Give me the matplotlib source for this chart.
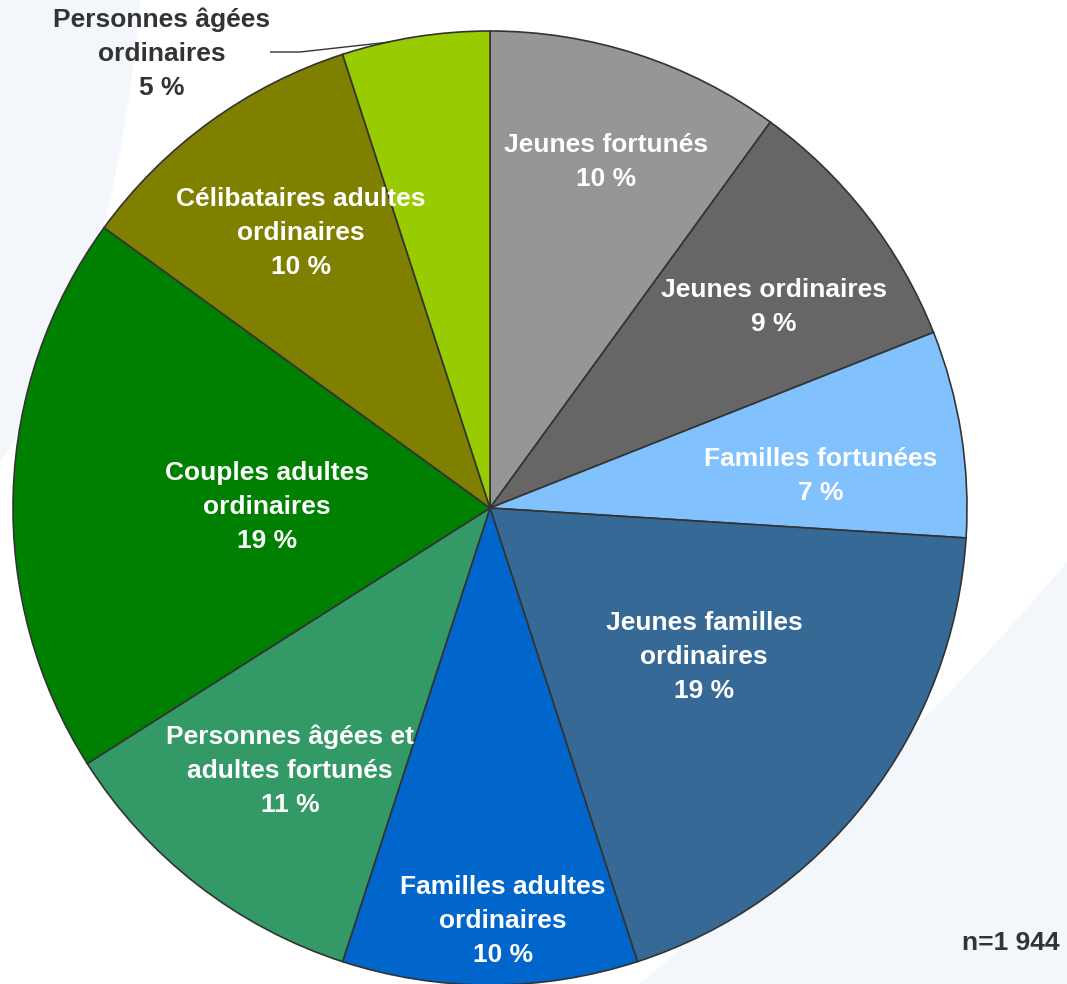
import matplotlib
matplotlib.use("Agg")
import matplotlib.pyplot as plt
from matplotlib.patches import PathPatch
from matplotlib.path import Path

# Segments, in clockwise order starting at 12 o'clock
segments = [
    "Jeunes fortunés",
    "Jeunes ordinaires",
    "Familles fortunées",
    "Jeunes familles\nordinaires",
    "Familles adultes\nordinaires",
    "Personnes âgées et\nadultes fortunés",
    "Couples adultes\nordinaires",
    "Célibataires adultes\nordinaires",
    "Personnes âgées\nordinaires",
]
shares = [10, 9, 7, 19, 10, 11, 19, 10, 5]
sample_note = "n=1 944"

colors = ["#969696", "#666666", "#80c1fe", "#376996", "#0066cc",
          "#339966", "#008000", "#808000", "#99cc00"]

# Label centres in pixel space (x right, y down)
label_pos = [(606, 162), (774, 307), (821, 476), (704, 657), (503, 921),
             (290, 771), (267, 507), (301, 233), (162, 54)]
label_color = ["white"] * 8 + ["#333333"]

W, H = 1067, 984
CX, CY, R = 490, 508, 477

fig = plt.figure(figsize=(W / 100, H / 100), dpi=100, facecolor="#f3f6fb")
ax = fig.add_axes([0, 0, 1, 1])
ax.set_facecolor("none")


def fy(y):
    return H - y


# Pale backdrop with a white diagonal swoosh
verts = [(140, 0), (W, 0), (W, 562), (900, 760), (640, H), (0, H), (0, 462),
         (115, 300), (140, 0), (140, 0)]
codes = [Path.MOVETO, Path.LINETO, Path.LINETO, Path.CURVE3, Path.CURVE3,
         Path.LINETO, Path.LINETO, Path.CURVE3, Path.CURVE3, Path.CLOSEPOLY]
swoosh = Path([(x, fy(y)) for x, y in verts], codes)
ax.add_patch(PathPatch(swoosh, facecolor="white", edgecolor="none", zorder=0))

wedges, _ = ax.pie(
    shares, colors=colors, startangle=90, counterclock=False,
    center=(CX, fy(CY)), radius=R, frame=True,
    wedgeprops=dict(edgecolor="#333333", linewidth=1.2),
)

font = "Liberation Sans"
for name, v, (lx, ly), c in zip(segments, shares, label_pos, label_color):
    ax.text(lx, fy(ly), f"{name}\n{v} %", ha="center", va="center",
            color=c, fontsize=19, fontweight="bold", family=font,
            linespacing=1.52, zorder=5)

# Leader line for the small outside-labelled segment
ax.plot([270, 300, 390], [fy(52), fy(52), fy(42)], color="#333333",
        linewidth=1.0, zorder=4, solid_capstyle="butt")

ax.text(1060, fy(943), sample_note, ha="right", va="center",
        color="#333333", fontsize=19, fontweight="bold", family=font)

ax.set_xlim(0, W)
ax.set_ylim(0, H)
ax.set_aspect("equal")
ax.axis("off")

fig.savefig("out.png", dpi=100, facecolor=fig.get_facecolor())
